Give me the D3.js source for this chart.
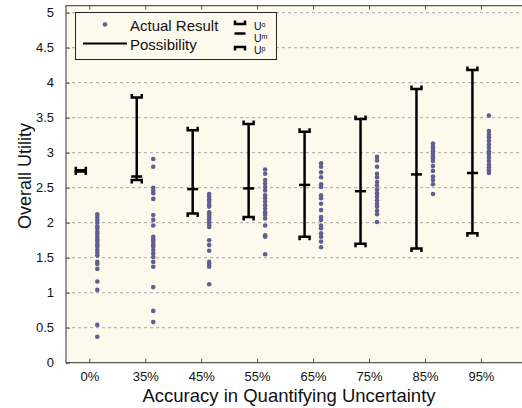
<!DOCTYPE html>
<html><head><meta charset="utf-8">
<script src="https://cdn.jsdelivr.net/npm/d3@7"></script>
<style>body{margin:0;background:#fff;}svg{display:block;font-family:"Liberation Sans",Arial,sans-serif;}</style>
</head><body><svg id="c" width="522" height="408"></svg>
<script>
const categories = ["0%","35%","45%","55%","65%","75%","85%","95%"];
const yTicks = [0,0.5,1,1.5,2,2.5,3,3.5,4,4.5,5];
const yTickLabels = ["0","0.5","1","1.5","2","2.5","3","3.5","4","4.5","5"];
const legendLabels = ["Actual Result", "Possibility"];
const capLabels = ["Uᵒ", "Uᵐ", "Uᵖ"];
// Possibility range: U^o (top), U^m (middle), U^p (bottom)
const uO = [2.75, 3.79, 3.32, 3.41, 3.30, 3.48, 3.91, 4.18];
const uM = [2.74, 2.66, 2.48, 2.49, 2.54, 2.45, 2.69, 2.71];
const uP = [2.73, 2.61, 2.13, 2.08, 1.80, 1.70, 1.63, 1.85];
// Actual results
const actual0  = [2.12,2.08,2.04,2.00,1.95,1.92,1.87,1.84,1.80,1.76,1.73,1.69,1.66,1.61,1.57,1.53,1.44,1.41,1.34,1.16,1.04,0.54,0.37];
const actual35 = [2.91,2.80,2.50,2.46,2.42,2.34,2.11,2.04,1.96,1.80,1.76,1.73,1.69,1.66,1.61,1.56,1.51,1.44,1.37,1.08,0.74,0.58];
const actual45 = [2.41,2.37,2.33,2.30,2.26,2.23,2.15,2.12,2.08,2.05,2.01,1.97,1.94,1.75,1.68,1.60,1.44,1.41,1.37,1.12];
const actual55 = [2.76,2.70,2.61,2.56,2.51,2.46,2.39,2.35,2.30,2.25,2.20,2.15,2.11,2.06,1.96,1.82,1.80,1.55];
const actual65 = [2.85,2.80,2.72,2.65,2.55,2.51,2.39,2.35,2.27,2.18,2.08,2.04,1.96,1.92,1.85,1.80,1.73,1.65];
const actual75 = [2.94,2.89,2.80,2.70,2.65,2.58,2.53,2.47,2.42,2.37,2.32,2.27,2.23,2.17,2.12,2.01];
const actual85 = [3.13,3.09,3.06,3.02,2.99,2.95,2.92,2.88,2.81,2.74,2.66,2.61,2.55,2.41];
const actual95 = [3.53,3.31,3.26,3.22,3.17,3.12,3.07,3.02,2.98,2.93,2.88,2.83,2.79,2.75,2.71];
const actual = [actual0, actual35, actual45, actual55, actual65, actual75, actual85, actual95];

const svg = d3.select("#c");
const L = 66, R = 524, T = 5.7, B = 362.7;
const x = d3.scaleLinear().domain([-0.4165, 7.77]).range([L, R]);
const y = d3.scaleLinear().domain([0, 5.1]).range([B, T]);
const barOff = -8.5, dotOff = 8;
const dotColor = "#5e6190";

svg.append("rect").attr("x", L).attr("y", T).attr("width", R - L).attr("height", B - T).attr("fill", "#fdf9ec");

// gridlines
svg.append("g").selectAll("line").data(yTicks.filter(d => d > 0)).join("line")
  .attr("x1", L).attr("x2", R).attr("y1", d => y(d)).attr("y2", d => y(d))
  .attr("stroke", "#a8a8a8").attr("stroke-width", 1).attr("stroke-dasharray", "3,3");

// axes
const yAxis = d3.axisLeft(y).tickValues(yTicks).tickFormat((d, i) => yTickLabels[i]).tickSizeInner(-4).tickSizeOuter(0).tickPadding(12);
const gy = svg.append("g").attr("transform", `translate(${L},0)`).call(yAxis);
const xAxis = d3.axisBottom(x).tickValues(d3.range(categories.length)).tickFormat(i => categories[i]).tickSizeInner(-4).tickSizeOuter(0).tickPadding(9);
const gx = svg.append("g").attr("transform", `translate(0,${B})`).call(xAxis);
const xTop = d3.axisTop(x).tickValues(d3.range(categories.length)).tickFormat("").tickSizeInner(-4).tickSizeOuter(0);
const gxt = svg.append("g").attr("transform", `translate(0,${T})`).call(xTop);
[gy, gx, gxt].forEach(g => {
  g.select(".domain").remove();
  g.selectAll(".tick line").attr("stroke", "#555");
  g.selectAll("text").attr("font-size", 13).attr("fill", "#111").attr("font-family", "Liberation Sans, Arial, sans-serif");
});
svg.append("rect").attr("x", L).attr("y", T).attr("width", R - L).attr("height", B - T).attr("fill", "none").attr("stroke", "#333").attr("stroke-width", 1);

// titles
svg.append("text").attr("x", 289).attr("y", 402).attr("text-anchor", "middle").attr("font-size", 18.5).attr("fill", "#111").text("Accuracy in Quantifying Uncertainty");
svg.append("text").attr("transform", "translate(31,176) rotate(-90)").attr("text-anchor", "middle").attr("font-size", 18).attr("fill", "#111").text("Overall Utility");

// possibility bars
const capW = 5, prong = 3.5, sw = 2.5;
function capO(g, cx, cy) { // ⊔ shape
  g.append("path").attr("d", `M${cx - capW},${cy - prong}V${cy}H${cx + capW}V${cy - prong}`).attr("fill", "none").attr("stroke", "#000").attr("stroke-width", sw);
}
function capP(g, cx, cy) { // ⊓ shape
  g.append("path").attr("d", `M${cx - capW},${cy + prong}V${cy}H${cx + capW}V${cy + prong}`).attr("fill", "none").attr("stroke", "#000").attr("stroke-width", sw);
}
function capM(g, cx, cy) {
  g.append("line").attr("x1", cx - capW - 0.5).attr("x2", cx + capW + 0.5).attr("y1", cy).attr("y2", cy).attr("stroke", "#000").attr("stroke-width", sw);
}
const gb = svg.append("g");
categories.forEach((c, i) => {
  const cx = x(i) + barOff;
  gb.append("line").attr("x1", cx).attr("x2", cx).attr("y1", y(uO[i])).attr("y2", y(uP[i])).attr("stroke", "#000").attr("stroke-width", sw);
  capO(gb, cx, y(uO[i]));
  capM(gb, cx, y(uM[i]));
  capP(gb, cx, y(uP[i]));
});

// dots
const gd = svg.append("g");
actual.forEach((arr, i) => {
  gd.selectAll(null).data(arr).join("circle")
    .attr("cx", x(i) + dotOff).attr("cy", d => y(d)).attr("r", 2.3).attr("fill", dotColor);
});

// legend
const lg = svg.append("g");
lg.append("rect").attr("x", 75.5).attr("y", 12.5).attr("width", 201).attr("height", 47).attr("fill", "#fdf9ec").attr("stroke", "#222").attr("stroke-width", 1);
lg.append("circle").attr("cx", 105).attr("cy", 24.5).attr("r", 2.3).attr("fill", dotColor);
lg.append("text").attr("x", 130).attr("y", 31).attr("font-size", 15).attr("fill", "#111").text(legendLabels[0]);
lg.append("line").attr("x1", 83).attr("x2", 127).attr("y1", 43.5).attr("y2", 43.5).attr("stroke", "#000").attr("stroke-width", 2);
lg.append("text").attr("x", 130).attr("y", 49.5).attr("font-size", 15).attr("fill", "#111").text(legendLabels[1]);
capO(lg, 240, 24);
capM(lg, 240, 33.5);
capP(lg, 240, 47);
[29.5, 41.5, 53.5].forEach((by, i) => {
  lg.append("text").attr("x", 254).attr("y", by).attr("font-size", 10.5).attr("fill", "#111").text(capLabels[i]);
});
</script></body></html>
